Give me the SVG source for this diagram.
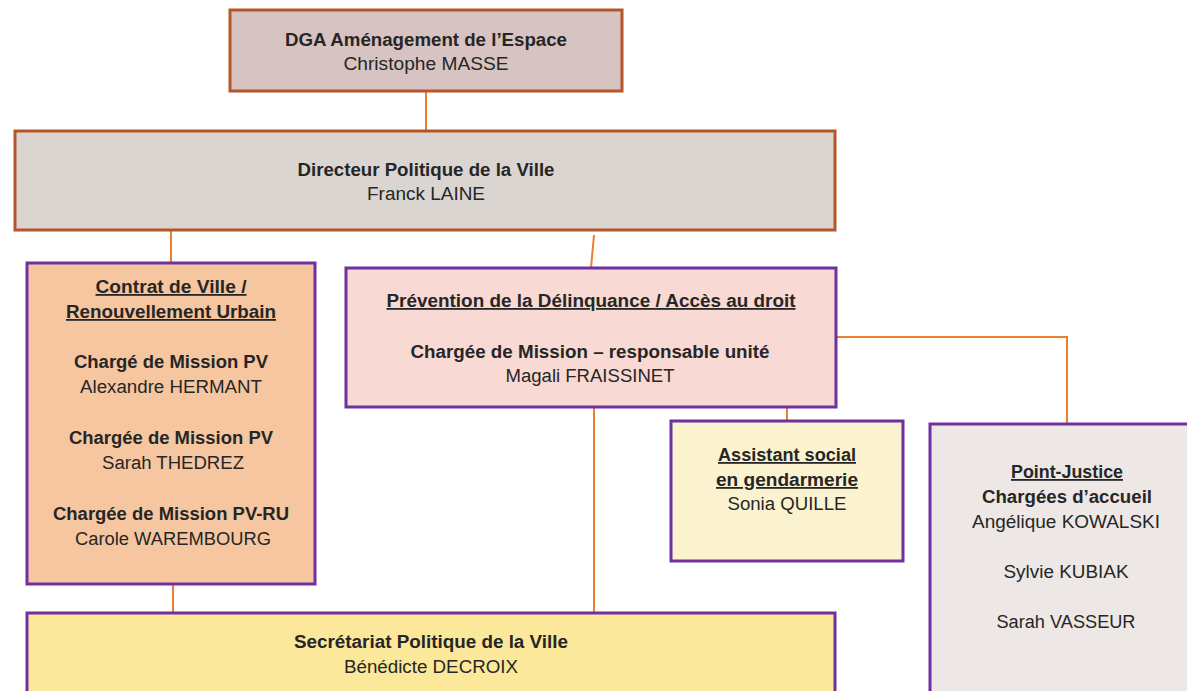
<svg xmlns="http://www.w3.org/2000/svg" width="1187" height="691" viewBox="0 0 1187 691">
<style>
text{font-family:"Liberation Sans",Arial,sans-serif;font-size:18px;fill:#262626;text-anchor:middle}
.b{font-weight:bold}
.u{text-decoration:underline}
.top{stroke:#B5562A;stroke-width:3}
.pur{stroke:#7030A0;stroke-width:3}
.con{stroke:#ED7D31;stroke-width:2;fill:none}
</style>
<rect width="1187" height="691" fill="#ffffff"/>
<g id="connectors">
<line class="con" x1="426" y1="91" x2="426" y2="131"/>
<line class="con" x1="171" y1="230" x2="171" y2="263"/>
<line class="con" x1="594" y1="235" x2="591" y2="268"/>
<line class="con" x1="173" y1="584" x2="173" y2="613"/>
<line class="con" x1="594" y1="407" x2="594" y2="613"/>
<line class="con" x1="787" y1="407" x2="787" y2="421"/>
<polyline class="con" points="836,337 1067,337 1067,424"/>
</g>
<g id="dga">
<rect class="top" x="230" y="10" width="392" height="81" fill="#D7C3C2"/>
<text class="b" x="426" y="46" textLength="282" lengthAdjust="spacingAndGlyphs">DGA Aménagement de l’Espace</text>
<text x="426" y="70" textLength="165" lengthAdjust="spacingAndGlyphs">Christophe MASSE</text>
</g>
<g id="directeur">
<rect class="top" x="15" y="131" width="820" height="99" fill="#DAD5D0"/>
<text class="b" x="426" y="176" textLength="257" lengthAdjust="spacingAndGlyphs">Directeur Politique de la Ville</text>
<text x="426" y="200" textLength="118" lengthAdjust="spacingAndGlyphs">Franck LAINE</text>
</g>
<g id="contrat">
<rect class="pur" x="27" y="263" width="288" height="321" fill="#F5C6A0"/>
<text class="b u" x="171" y="293" textLength="151" lengthAdjust="spacingAndGlyphs">Contrat de Ville /</text>
<text class="b u" x="171" y="318" textLength="210" lengthAdjust="spacingAndGlyphs">Renouvellement Urbain</text>
<text class="b" x="171" y="368" textLength="194" lengthAdjust="spacingAndGlyphs">Chargé de Mission PV</text>
<text x="171" y="393" textLength="182" lengthAdjust="spacingAndGlyphs">Alexandre HERMANT</text>
<text class="b" x="171" y="444" textLength="204" lengthAdjust="spacingAndGlyphs">Chargée de Mission PV</text>
<text x="173" y="469" textLength="142" lengthAdjust="spacingAndGlyphs">Sarah THEDREZ</text>
<text class="b" x="171" y="520" textLength="236" lengthAdjust="spacingAndGlyphs">Chargée de Mission PV-RU</text>
<text x="173" y="545" textLength="196" lengthAdjust="spacingAndGlyphs">Carole WAREMBOURG</text>
</g>
<g id="prevention">
<rect class="pur" x="346" y="268" width="490" height="139" fill="#F9D9D3"/>
<text class="b u" x="591" y="307" textLength="409" lengthAdjust="spacingAndGlyphs">Prévention de la Délinquance / Accès au droit</text>
<text class="b" x="590" y="358" textLength="359" lengthAdjust="spacingAndGlyphs">Chargée de Mission – responsable unité</text>
<text x="590" y="382" textLength="169" lengthAdjust="spacingAndGlyphs">Magali FRAISSINET</text>
</g>
<g id="assistant">
<rect class="pur" x="671" y="421" width="232" height="140" fill="#FBF2D0"/>
<text class="b u" x="787" y="461" textLength="138" lengthAdjust="spacingAndGlyphs">Assistant social</text>
<text class="b u" x="787" y="486" textLength="142" lengthAdjust="spacingAndGlyphs">en gendarmerie</text>
<text x="787" y="510" textLength="119" lengthAdjust="spacingAndGlyphs">Sonia QUILLE</text>
</g>
<g id="pointjustice">
<rect class="pur" x="930" y="424" width="270" height="280" fill="#EDE8E5"/>
<text class="b u" x="1067" y="478" textLength="112" lengthAdjust="spacingAndGlyphs">Point-Justice</text>
<text class="b" x="1067" y="503" textLength="170" lengthAdjust="spacingAndGlyphs">Chargées d’accueil</text>
<text x="1066" y="528" textLength="188" lengthAdjust="spacingAndGlyphs">Angélique KOWALSKI</text>
<text x="1066" y="578" textLength="125" lengthAdjust="spacingAndGlyphs">Sylvie KUBIAK</text>
<text x="1066" y="628" textLength="139" lengthAdjust="spacingAndGlyphs">Sarah VASSEUR</text>
</g>
<g id="secretariat">
<rect class="pur" x="27" y="613" width="808" height="90" fill="#FBE89A"/>
<text class="b" x="431" y="648" textLength="274" lengthAdjust="spacingAndGlyphs">Secrétariat Politique de la Ville</text>
<text x="431" y="673" textLength="174" lengthAdjust="spacingAndGlyphs">Bénédicte DECROIX</text>
</g>
</svg>
